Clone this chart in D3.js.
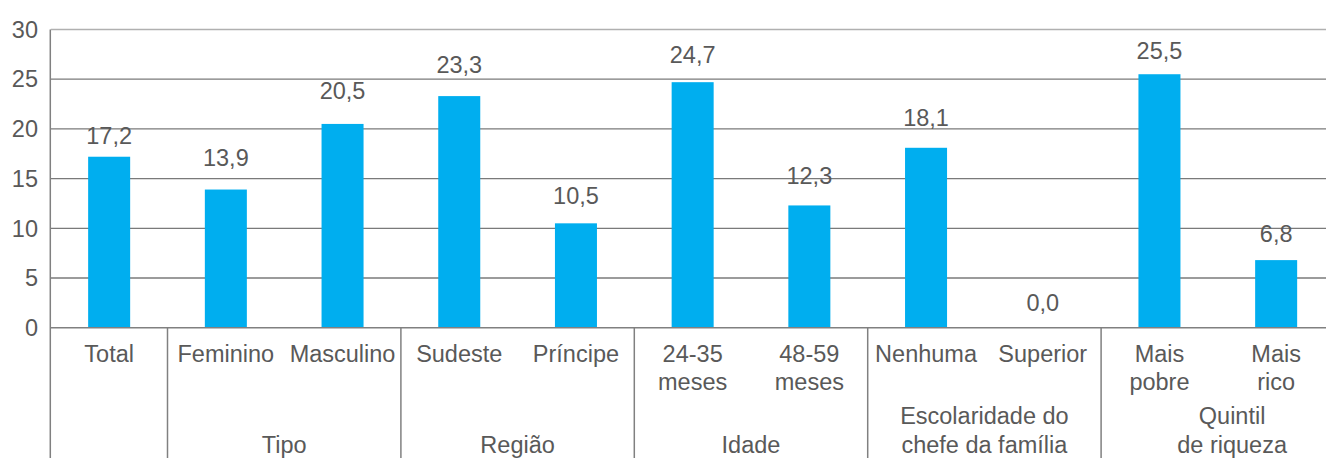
<!DOCTYPE html>
<html>
<head>
<meta charset="utf-8">
<script src="https://cdn.jsdelivr.net/npm/d3@7"></script>
<style>
  body { margin: 0; background: #fff; }
  text { font-family: "Liberation Sans", Arial, sans-serif; fill: #595959; }
</style>
</head>
<body>
<div id="chart"></div>
<script>
// Data
const categories = [["Total"], ["Feminino"], ["Masculino"], ["Sudeste"], ["Príncipe"],
  ["24-35", "meses"], ["48-59", "meses"], ["Nenhuma"], ["Superior"],
  ["Mais", "pobre"], ["Mais", "rico"]];
const values = [17.2, 13.9, 20.5, 23.3, 10.5, 24.7, 12.3, 18.1, 0.0, 25.5, 6.8];
const groupLabels = [[], ["Tipo"], ["Região"], ["Idade"], ["Escolaridade do", "chefe da família"], ["Quintil", "de riqueza"]];
const groupSizes = [1, 2, 2, 2, 2, 2];
const yTicks = [0, 5, 10, 15, 20, 25, 30];

// how far each value label sits above its bar (px)
const labelLift = [13, 24, 25, 23, 19, 19, 21, 22, 17, 15, 18];

const width = 1326, height = 458;
const plotLeft = 50.8, plotRight = 1334.5, plotTop = 29.5, zeroY = 327.7;
const fontSize = "23.5px";

const svg = d3.select("#chart").append("svg")
  .attr("width", width)
  .attr("height", height);

const keys = categories.map((c, i) => i);

const x = d3.scaleBand()
  .domain(keys)
  .range([plotLeft, plotRight])
  .padding(0);

const y = d3.scaleLinear()
  .domain([0, 30])
  .range([zeroY, plotTop]);

const barW = x.bandwidth() * 0.36;

// gridlines
svg.selectAll(".grid")
  .data(yTicks.filter(d => d > 0))
  .enter().append("line")
  .attr("x1", plotLeft).attr("x2", width)
  .attr("y1", d => y(d)).attr("y2", d => y(d))
  .attr("stroke", d => d === 30 ? "#b0b0b0" : "#7a7a7a")
  .attr("stroke-width", 1.3);

// y labels
svg.selectAll(".ytick")
  .data(yTicks)
  .enter().append("text")
  .attr("x", 38)
  .attr("y", d => y(d))
  .attr("dy", "0.35em")
  .attr("text-anchor", "end")
  .style("font-size", fontSize)
  .text(d => d);

// bars
svg.selectAll(".bar")
  .data(values)
  .enter().append("rect")
  .attr("x", (d, i) => x(i) + x.bandwidth() / 2 - barW / 2)
  .attr("y", d => y(d))
  .attr("width", barW)
  .attr("height", d => y(0) - y(d))
  .attr("fill", "#00aeef");

// value labels
svg.selectAll(".val")
  .data(values)
  .enter().append("text")
  .attr("x", (d, i) => x(i) + x.bandwidth() / 2)
  .attr("y", (d, i) => y(d) - labelLift[i])
  .attr("text-anchor", "middle")
  .style("font-size", fontSize)
  .text(d => d.toFixed(1).replace(".", ","));

// x axis line
svg.append("line")
  .attr("x1", plotLeft).attr("x2", width)
  .attr("y1", y(0)).attr("y2", y(0))
  .attr("stroke", "#808080").attr("stroke-width", 1.5);

// y axis line
svg.append("line")
  .attr("x1", plotLeft - 0.5).attr("x2", plotLeft - 0.5)
  .attr("y1", plotTop).attr("y2", height)
  .attr("stroke", "#808080").attr("stroke-width", 1.5);

// category labels
const catG = svg.selectAll(".cat")
  .data(categories)
  .enter().append("text")
  .attr("text-anchor", "middle")
  .style("font-size", fontSize);

catG.selectAll("tspan")
  .data((d, i) => d.map(t => ({ t: t, i: i })))
  .enter().append("tspan")
  .attr("x", d => x(d.i) + x.bandwidth() / 2)
  .attr("y", (d, j) => 362 + j * 27.5)
  .text(d => d.t);

// group separators and labels
let start = 0;
groupSizes.forEach((n, gi) => {
  const gx0 = x(start);
  const gx1 = x(start + n - 1) + x.bandwidth();
  if (gi > 0) {
    svg.append("line")
      .attr("x1", gx0).attr("x2", gx0)
      .attr("y1", y(0)).attr("y2", height)
      .attr("stroke", "#808080").attr("stroke-width", 1.5);
  }
  const lines = groupLabels[gi];
  const cx = gi === groupSizes.length - 1 ? gx0 + 131 : (gx0 + gx1) / 2;
  lines.forEach((t, j) => {
    svg.append("text")
      .attr("x", cx)
      .attr("y", lines.length === 1 ? 453 : 424 + j * 29)
      .attr("text-anchor", "middle")
      .style("font-size", fontSize)
      .text(t);
  });
  start += n;
});
</script>
</body>
</html>
